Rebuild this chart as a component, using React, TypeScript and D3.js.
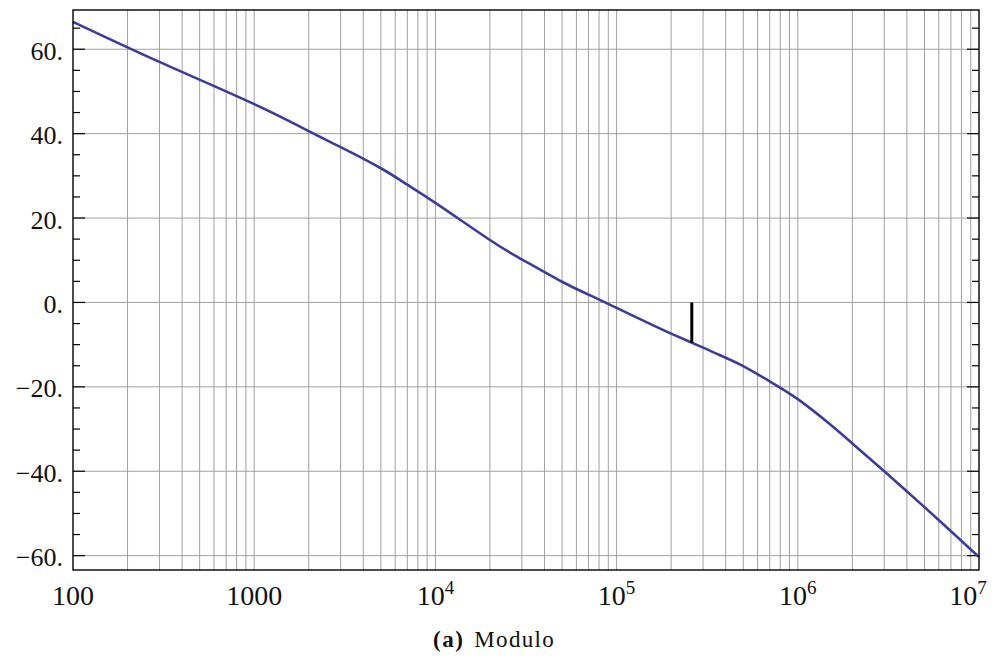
import React from 'react';
import * as d3 from 'd3';

// frequency (Hz) and magnitude (dB)
const freqs = [
  100, 300, 1000, 2000, 3000, 5000, 7000, 1e4, 2e4, 3e4, 5e4, 7e4, 1e5, 1.5e5,
  2e5, 3e5, 4e5, 5e5, 7e5, 1e6, 1.5e6, 2e6, 3e6, 5e6, 7e6, 1e7
];
const mags = [
  66.5, 57.0, 47.0, 40.6, 36.8, 31.8, 27.9, 23.6, 14.8, 10.2, 4.9, 1.85, -1.3, -4.9,
  -7.4, -10.7, -13.1, -15.1, -18.7, -22.9, -28.8, -33.4, -40.0, -48.5, -54.2, -60.3
];

// vertical marker
const markerFreq = 2.6e5;
const markerFrom = 0;
const markerTo = -9.5;

const yMajor = [-60, -40, -20, 0, 20, 40, 60];
const yMinor = d3.range(-60, 66, 5).filter(v => v % 20 !== 0);
const xMajor = [100, 1000, 1e4, 1e5, 1e6, 1e7];
const xLabels = ['100', '1000', '10|4', '10|5', '10|6', '10|7'];

const W = 1004;
const H = 659;
const margin = { left: 73, right: 25, top: 10, bottom: 89 };
const FONT = '"Liberation Serif", "DejaVu Serif", serif';

export default function App() {
  const x = d3.scaleLog().domain([100, 1e7]).range([margin.left, W - margin.right]);
  const y = d3.scaleLinear().domain([-63.4, 69.3]).range([H - margin.bottom, margin.top]);

  const gridX: number[] = [];
  for (let e = 2; e < 7; e++) {
    for (let m = 1; m < 10; m++) {
      const v = m * Math.pow(10, e);
      if (v > 100 && v < 1e7) gridX.push(v);
    }
  }

  const pts: [number, number][] = freqs.map((f, i) => [f, mags[i]]);
  const line = d3.line<[number, number]>()
    .x(d => x(d[0]))
    .y(d => y(d[1]))
    .curve(d3.curveNatural);

  const [x0, x1] = x.range();
  const [y0, y1] = y.range();

  return (
    <svg width={W} height={H} style={{ position: 'absolute', left: 0, top: 0, background: '#fff' }}>
      <g>
        {gridX.map(v => (
          <line key={'gx' + v} x1={x(v)} x2={x(v)} y1={y1} y2={y0} stroke="#a0a0a0" strokeWidth={1} />
        ))}
        {yMajor.map(v => (
          <line key={'gy' + v} x1={x0} x2={x1} y1={y(v)} y2={y(v)} stroke="#a0a0a0" strokeWidth={1} />
        ))}
      </g>

      {/* ticks left and right */}
      <g stroke="#000" strokeWidth={1.2}>
        {yMajor.map(v => (
          <g key={'t' + v}>
            <line x1={x0} x2={x0 + 12} y1={y(v)} y2={y(v)} />
            <line x1={x1} x2={x1 - 12} y1={y(v)} y2={y(v)} />
          </g>
        ))}
        {yMinor.map(v => (
          <g key={'m' + v}>
            <line x1={x0} x2={x0 + 7} y1={y(v)} y2={y(v)} />
            <line x1={x1} x2={x1 - 7} y1={y(v)} y2={y(v)} />
          </g>
        ))}
      </g>

      <path d={line(pts) || ''} fill="none" stroke="#3d3d99" strokeWidth={2.6} />

      <line x1={x(markerFreq)} x2={x(markerFreq)} y1={y(markerFrom)} y2={y(markerTo)}
        stroke="#000" strokeWidth={3} />

      <rect x={x0} y={y1} width={x1 - x0} height={y0 - y1} fill="none" stroke="#000" strokeWidth={1.4} />

      {/* y labels */}
      <g fontFamily={FONT} fontSize={26} fill="#111">
        {yMajor.map(v => (
          <text key={'yl' + v} x={x0 - 10} y={y(v) + 2} textAnchor="end" dominantBaseline="central">
            {(v < 0 ? '\u2212' + Math.abs(v) : String(v)) + '.'}
          </text>
        ))}
      </g>

      {/* x labels */}
      <g fontFamily={FONT} fontSize={28} fill="#111">
        {xMajor.map((v, i) => {
          const [base, exp] = xLabels[i].split('|');
          const cx = Math.min(x(v), W - 36);
          return (
            <text key={'xl' + v} x={cx} y={y0 + 35} textAnchor="middle">
              {base}
              {exp && <tspan fontSize={19} dy={-11}>{exp}</tspan>}
            </text>
          );
        })}
      </g>

      <text x={494} y={647} textAnchor="middle" fontFamily={FONT} fontSize={23} fill="#111">
        <tspan fontWeight="bold" letterSpacing={1.5}>(a)</tspan>
        <tspan dx={10} letterSpacing={1.3}>Modulo</tspan>
      </text>
    </svg>
  );
}
